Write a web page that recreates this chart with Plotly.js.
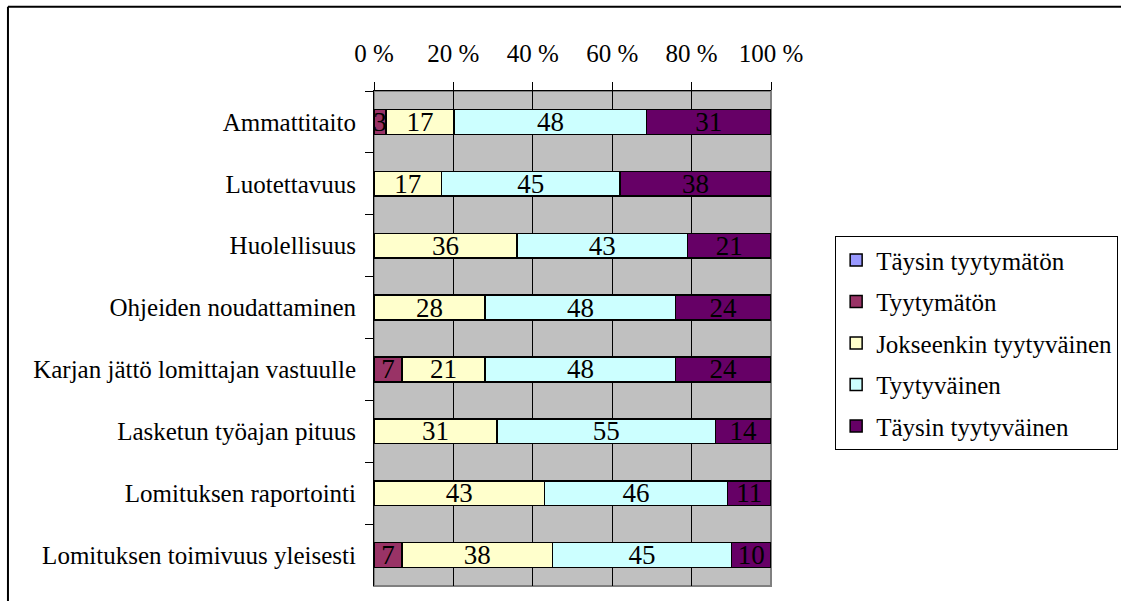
<!DOCTYPE html>
<html>
<head>
<meta charset="utf-8">
<script src="https://cdn.plot.ly/plotly-3.0.1.min.js"></script>
<style>html,body{margin:0;padding:0;background:#fff;overflow:hidden;}#chart{width:1121px;height:601px;}</style>
</head>
<body>
<div id="chart"></div>
<script>
const categories = [
  "Ammattitaito",
  "Luotettavuus",
  "Huolellisuus",
  "Ohjeiden noudattaminen",
  "Karjan jättö lomittajan vastuulle",
  "Lasketun työajan pituus",
  "Lomituksen raportointi",
  "Lomituksen toimivuus yleisesti"
];
const seriesNames = ["Täysin tyytymätön", "Tyytymätön", "Jokseenkin tyytyväinen", "Tyytyväinen", "Täysin tyytyväinen"];
const taysinTyytymaton   = [0, 0, 0, 0, 0, 0, 0, 0];
const tyytymaton         = [3, 0, 0, 0, 7, 0, 0, 7];
const jokseenkin         = [17, 17, 36, 28, 21, 31, 43, 38];
const tyytyvainen        = [48, 45, 43, 48, 48, 55, 46, 45];
const taysinTyytyvainen  = [31, 38, 21, 24, 24, 14, 11, 10];
const xTickVals = [0, 20, 40, 60, 80, 100];
const xTickText = ["0 %", "20 %", "40 %", "60 %", "80 %", "100 %"];

const seriesValues = [taysinTyytymaton, tyytymaton, jokseenkin, tyytyvainen, taysinTyytyvainen];
const colors = ["#9999FF", "#993366", "#FFFFCC", "#CCFFFF", "#660066"];
const FONT = "'Liberation Serif', 'Times New Roman', serif";

const traces = seriesValues.map((vals, i) => ({
  type: "bar",
  orientation: "h",
  name: seriesNames[i],
  legendgroup: "g" + i,
  y: categories,
  x: vals,
  text: vals.map(v => v > 0 ? String(v) : ""),
  textposition: "inside",
  insidetextanchor: "middle",
  constraintext: "none",
  textangle: 0,
  textfont: {family: FONT, size: 27, color: "#000"},
  marker: {color: colors[i], line: {color: "#000", width: 1.5}},
  hoverinfo: "skip"
}));

const layout = {
  width: 1121,
  height: 601,
  margin: {l: 374, r: 350, t: 91, b: 15, pad: 0, autoexpand: false},
  paper_bgcolor: "#ffffff",
  plot_bgcolor: "#C0C0C0",
  barmode: "stack",
  barnorm: "percent",
  bargap: 0.6,
  showlegend: true,
  font: {family: FONT, size: 25, color: "#000"},
  xaxis: {
    side: "top",
    range: [0, 100],
    tickvals: xTickVals,
    ticktext: xTickText,
    ticks: "outside",
    ticklen: 8,
    tickcolor: "#000",
    showgrid: true,
    gridcolor: "#000",
    gridwidth: 1,
    showline: true,
    linecolor: "#000",
    linewidth: 1,
    zeroline: false,
    ticklabelstandoff: 10,
    automargin: false,
    tickfont: {family: FONT, size: 25, color: "#000"},
    fixedrange: true
  },
  yaxis: {
    type: "category",
    categoryorder: "array",
    categoryarray: categories,
    autorange: "reversed",
    ticks: "outside",
    tickson: "boundaries",
    ticklen: 8,
    tickcolor: "#000",
    showline: true,
    linecolor: "#000",
    linewidth: 1,
    showgrid: false,
    zeroline: false,
    automargin: false,
    ticklabelstandoff: 12,
    tickfont: {family: FONT, size: 25, color: "#000"},
    fixedrange: true
  },
  legend: {
    xref: "container",
    yref: "container",
    x: 0.745,
    xanchor: "left",
    y: 0.607,
    yanchor: "top",
    bgcolor: "#ffffff",
    bordercolor: "#000",
    borderwidth: 1,
    traceorder: "grouped",
    tracegroupgap: 6,
    font: {family: FONT, size: 25, color: "#000"}
  },
  shapes: [
    {type: "rect", xref: "paper", yref: "paper", x0: 0, x1: 1, y0: 0, y1: 1,
     line: {color: "#808080", width: 2}, layer: "below"},
    {type: "line", xref: "paper", yref: "paper", x0: -0.922, x1: 1.9, y0: 1.170, y1: 1.170,
     line: {color: "#000", width: 2}},
    {type: "line", xref: "paper", yref: "paper", x0: -0.922, x1: -0.922, y0: -0.06, y1: 1.170,
     line: {color: "#000", width: 2}}
  ]
};

Plotly.newPlot("chart", traces, layout, {displayModeBar: false, staticPlot: true});
</script>
</body>
</html>
